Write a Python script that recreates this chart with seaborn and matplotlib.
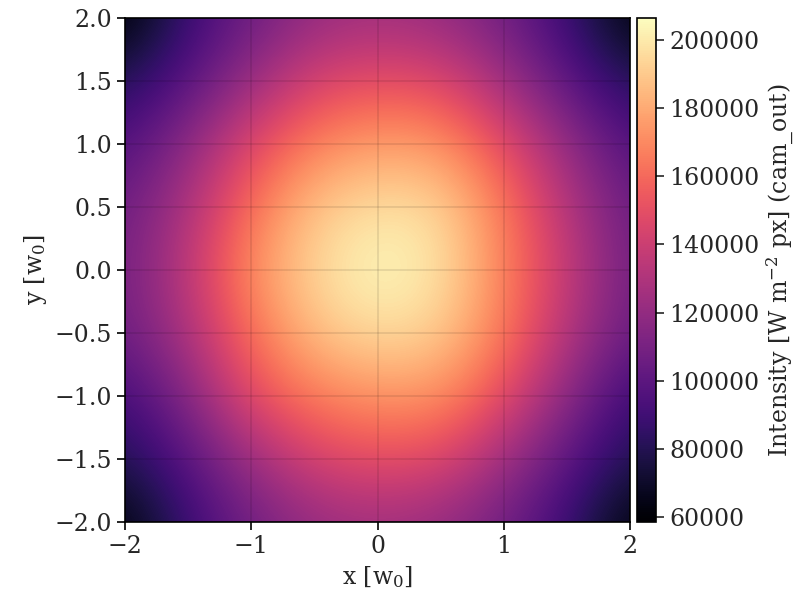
import numpy as np
import matplotlib
matplotlib.use("Agg")
import matplotlib.pyplot as plt
import seaborn as sns

# Sample positions (beam waist units)
x_pos = [-2.0, -1.5, -1.0, -0.5, 0.0, 0.5, 1.0, 1.5, 2.0]
y_pos = [2.0, 1.5, 1.0, 0.5, 0.0, -0.5, -1.0, -1.5, -2.0]

# Intensity, rows from top (y=2) to bottom (y=-2)
row_y2p0 = [58500, 88100, 105900, 120700, 125100, 120700, 107300, 88100, 61500]
row_y1p5 = [80700, 98500, 122100, 144300, 150300, 147300, 125100, 99900, 80700]
row_y1p0 = [95500, 117700, 147300, 168000, 176900, 173900, 150300, 120700, 95500]
row_y0p5 = [105900, 129500, 162100, 188700, 197600, 194700, 165100, 132500, 104400]
row_y0p0 = [108800, 135500, 172500, 194700, 206500, 199100, 168000, 138400, 107300]
row_ym0p5 = [105900, 129500, 162100, 187300, 196100, 191700, 165100, 132500, 104400]
row_ym1p0 = [91100, 114700, 150300, 166500, 173900, 172500, 150300, 117700, 88100]
row_ym1p5 = [79200, 98500, 123600, 144300, 150300, 147300, 125100, 99900, 79200]
row_ym2p0 = [61500, 88100, 107300, 120700, 125100, 120700, 107300, 88100, 61500]

cbar_ticks = [60000, 80000, 100000, 120000, 140000, 160000, 180000, 200000]
x_ticks = [-2, -1, 0, 1, 2]
y_ticks = [-2.0, -1.5, -1.0, -0.5, 0.0, 0.5, 1.0, 1.5, 2.0]

Z = np.array([row_y2p0, row_y1p5, row_y1p0, row_y0p5, row_y0p0,
              row_ym0p5, row_ym1p0, row_ym1p5, row_ym2p0], dtype=float)

sns.set_theme(style="ticks")
plt.rcParams["font.family"] = ["DejaVu Serif"]
plt.rcParams["mathtext.fontset"] = "dejavuserif"
fs = 17

fig = plt.figure(figsize=(8.09, 6.07), dpi=100)
ax = fig.add_axes([125/809, 1-522/607, 505/809, 504/607])
cax = fig.add_axes([637/809, 1-522/607, 19/809, 504/607])

cmap = sns.color_palette("magma", as_cmap=True)
dx = (x_pos[1] - x_pos[0]) / 2
dy = (y_pos[0] - y_pos[1]) / 2
im = ax.imshow(Z, cmap=cmap, interpolation="bicubic", origin="upper",
               extent=[x_pos[0]-dx, x_pos[-1]+dx, y_pos[-1]-dy, y_pos[0]+dy],
               vmin=Z.min(), vmax=Z.max(), aspect="auto")
ax.set_xlim(-2, 2)
ax.set_ylim(-2, 2)
ax.set_xticks(x_ticks)
ax.set_yticks(y_ticks)
ax.set_xticklabels([f"{v:d}".replace("-", "\u2212") for v in x_ticks])
ax.set_yticklabels([f"{v:.1f}".replace("-", "\u2212") for v in y_ticks])
ax.grid(True, color="black", alpha=0.1, linewidth=1.2)
ax.set_axisbelow(False)
ax.tick_params(labelsize=fs, direction="out", length=6, width=1.2, color="black")
for s in ax.spines.values():
    s.set_color("black")
    s.set_linewidth(1.2)
ax.set_xlabel(r"x [w$_0$]", fontsize=fs)
ax.set_ylabel(r"y [w$_0$]", fontsize=fs)

cb = fig.colorbar(im, cax=cax)
cb.set_ticks(cbar_ticks)
cb.set_ticklabels([str(t) for t in cbar_ticks])
cb.ax.tick_params(labelsize=fs, length=6, width=1.2)
cb.outline.set_edgecolor("black")
cb.outline.set_linewidth(1.2)
cb.set_label(r"Intensity [W m$^{-2}$ px] (cam_out)", fontsize=fs)

fig.savefig("out.png", dpi=100)
